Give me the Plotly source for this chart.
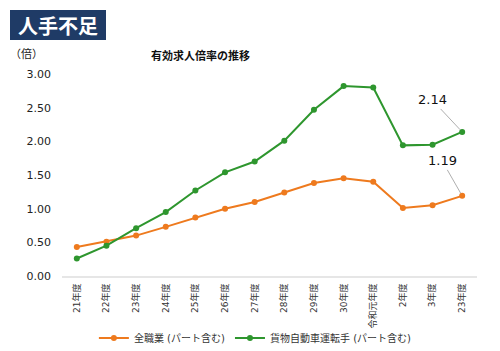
import plotly.graph_objects as go

categories = ["21年度", "22年度", "23年度", "24年度", "25年度", "26年度", "27年度",
              "28年度", "29年度", "30年度", "令和元年度", "2年度", "3年度", "23年度"]
all_jobs = [0.43, 0.51, 0.60, 0.73, 0.87, 1.00, 1.10, 1.24, 1.38, 1.45, 1.40, 1.01, 1.05, 1.19]
truck_drivers = [0.26, 0.45, 0.71, 0.95, 1.27, 1.54, 1.70, 2.01, 2.47, 2.82, 2.80, 1.94, 1.95, 2.14]
y_ticks = [0, 0.5, 1.0, 1.5, 2.0, 2.5, 3.0]

name_all = "全職業 (パート含む)"
name_truck = "貨物自動車運転手 (パート含む)"

x = list(range(len(categories)))
JP = "DejaVu Sans, Noto Sans CJK JP"

fig = go.Figure()
fig.add_trace(go.Scatter(x=x, y=all_jobs, name=name_all, mode="lines+markers",
                         line=dict(color="#EE7A1E", width=2),
                         marker=dict(size=6, color="#EE7A1E")))
fig.add_trace(go.Scatter(x=x, y=truck_drivers, name=name_truck, mode="lines+markers",
                         line=dict(color="#2E962E", width=2),
                         marker=dict(size=6, color="#2E962E")))

L, R, T, B = 62, 23, 74, 75
W, H = 500, 351
pw, ph = W - L - R, H - T - B

def px(xp):
    return (xp - L) / pw

def py(yp):
    return (H - B - yp) / ph

fig.update_layout(
    width=W, height=H,
    margin=dict(l=L, r=R, t=T, b=B, autoexpand=False),
    paper_bgcolor="white", plot_bgcolor="white",
    font=dict(family=JP, size=11, color="#222"),
    showlegend=True,
    legend=dict(orientation="h", x=0.466, xanchor="center", y=py(338), yanchor="middle",
                bgcolor="rgba(0,0,0,0)",
                font=dict(size=10, color="#333"), itemwidth=30, tracegroupgap=0),
    xaxis=dict(range=[-0.5, len(categories) - 0.5], tickmode="array", tickvals=x,
               ticktext=categories, tickangle=-90, showgrid=False, zeroline=False,
               showline=True, linecolor="#E6E6E6", linewidth=2, ticks="",
               automargin=False, ticklabelstandoff=2,
               tickfont=dict(size=9, color="#333")),
    yaxis=dict(range=[0, 3.0], tickmode="array", tickvals=y_ticks, tickformat=".2f",
               showgrid=False, zeroline=False, showline=False, ticks="",
               automargin=False, ticklabelstandoff=10,
               tickfont=dict(size=11, color="#222")),
)

# Badge
fig.add_shape(type="rect", xref="paper", yref="paper",
              x0=px(10), x1=px(106), y0=py(40), y1=py(10),
              fillcolor="#1F3B66", line=dict(width=0), layer="above")
fig.add_annotation(xref="paper", yref="paper", x=px(58), y=py(25), text="<b>人手不足</b>",
                   showarrow=False, font=dict(size=20, color="white", family="Noto Sans CJK JP"),
                   xanchor="center", yanchor="middle")
# Unit label
fig.add_annotation(xref="paper", yref="paper", x=px(8), y=py(55), text="（倍）",
                   showarrow=False, font=dict(size=11, color="#222"),
                   xanchor="left", yanchor="middle")
# Title
fig.add_annotation(xref="paper", yref="paper", x=px(200), y=py(55), text="<b>有効求人倍率の推移</b>",
                   showarrow=False, font=dict(size=11, color="#111", family="Noto Sans CJK JP"),
                   xanchor="center", yanchor="middle")
# Data labels
fig.add_annotation(x=x[-1], y=truck_drivers[-1], text=f"{truck_drivers[-1]:.2f}",
                   showarrow=True, arrowhead=0, arrowwidth=0.8, arrowcolor="#999",
                   ax=-30, ay=-32, standoff=3, font=dict(size=13, color="#111"))
fig.add_annotation(x=x[-1], y=all_jobs[-1], text=f"{all_jobs[-1]:.2f}",
                   showarrow=True, arrowhead=0, arrowwidth=0.8, arrowcolor="#999",
                   ax=-20, ay=-35, standoff=3, font=dict(size=13, color="#111"))

fig.write_html("out.html")
